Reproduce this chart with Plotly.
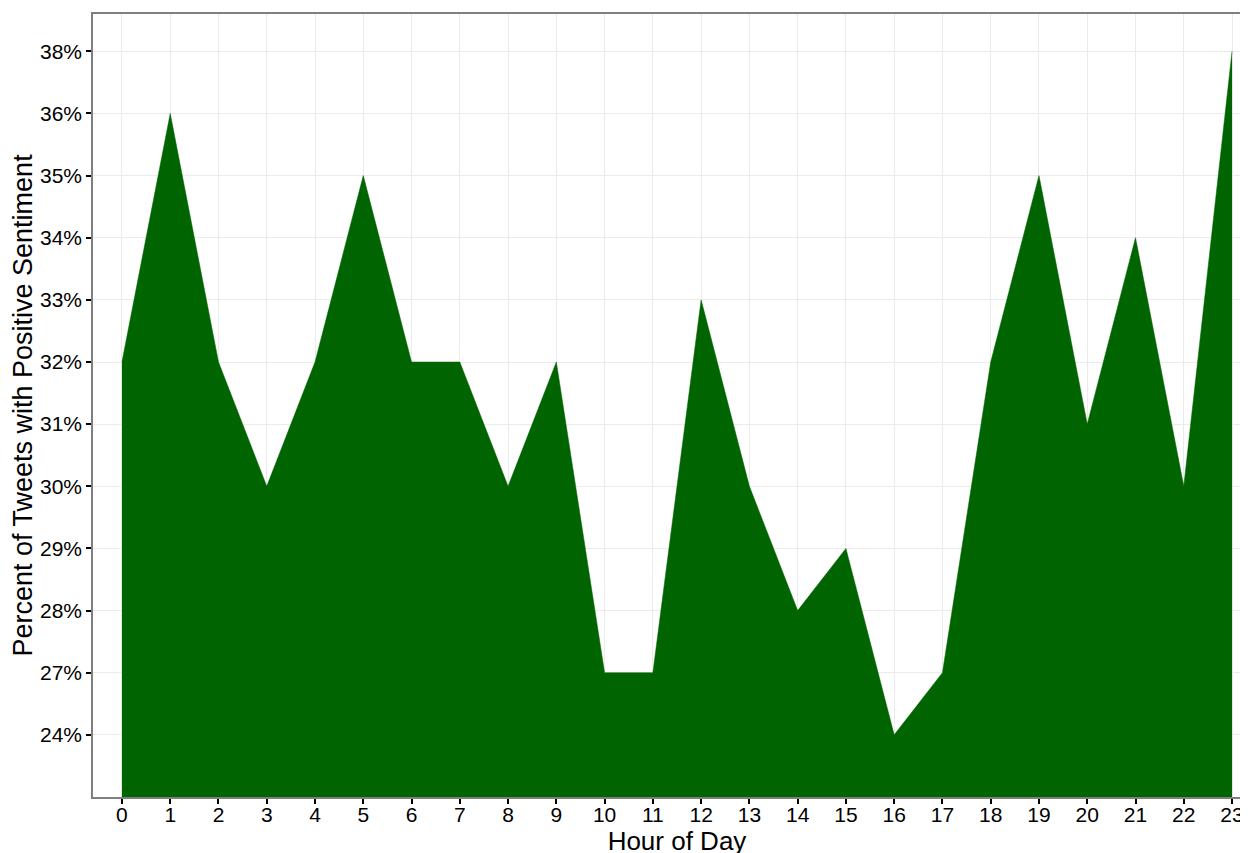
import plotly.graph_objects as go

hours = list(range(24))
pct_labels = ["24%", "27%", "28%", "29%", "30%", "31%", "32%", "33%", "34%", "35%", "36%", "38%"]
positive = ["32%", "36%", "32%", "30%", "32%", "35%", "32%", "32%", "30%", "32%", "27%", "27%",
            "33%", "30%", "28%", "29%", "24%", "27%", "32%", "35%", "31%", "34%", "30%", "38%"]

cat_order = [" "] + pct_labels

fig = go.Figure()
fig.add_trace(go.Scatter(
    x=hours, y=positive, mode="lines", fill="tozeroy",
    fillcolor="#006400", line=dict(color="#006400", width=0.5),
    hoverinfo="x+y", showlegend=False,
))

font = "Liberation Sans, Arial, Helvetica, sans-serif"
fig.update_layout(
    width=1260, height=853,
    margin=dict(l=85, r=7, t=4, b=64),
    paper_bgcolor="white", plot_bgcolor="white",
    font=dict(family=font, color="black", size=21),
    xaxis=dict(
        range=[-0.6, 23.6], tickmode="array", tickvals=hours,
        ticks="outside", ticklen=5, tickwidth=2, tickcolor="black",
        ticklabelstandoff=-7,
        showgrid=True, gridcolor="#ebebeb", gridwidth=1, zeroline=False,
        showline=True, linecolor="#7f7f7f", linewidth=1.5, mirror=True,
        tickfont=dict(size=21, color="black"),
        title=dict(text="Hour of Day", font=dict(size=26), standoff=0),
    ),
    yaxis=dict(
        type="category", categoryorder="array", categoryarray=cat_order,
        range=[0, 12.6], tickmode="array", tickvals=pct_labels,
        ticks="outside", ticklen=5, tickwidth=2, tickcolor="black",
        showgrid=True, gridcolor="#ebebeb", gridwidth=1, zeroline=False,
        showline=True, linecolor="#7f7f7f", linewidth=1.5, mirror=True,
        tickfont=dict(size=21, color="black"),
        title=dict(text="Percent of Tweets with Positive Sentiment", font=dict(size=27), standoff=2),
    ),
)

fig.write_html("out.html")
